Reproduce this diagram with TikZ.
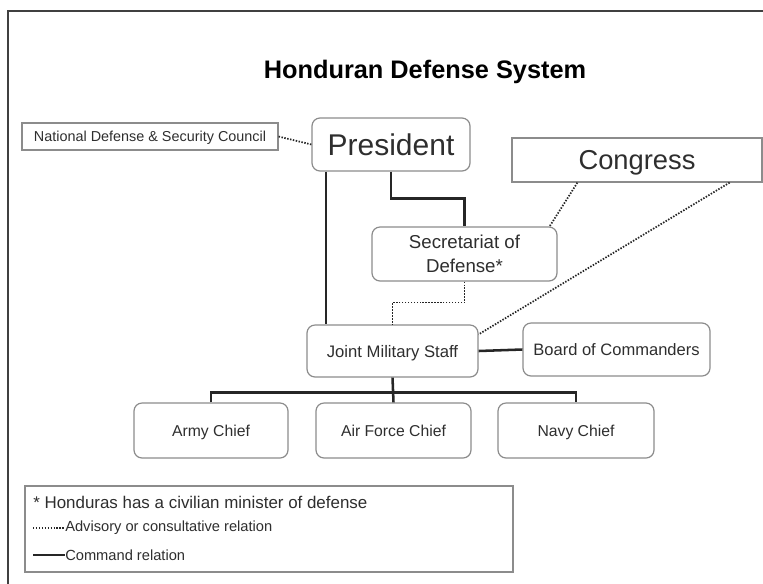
\documentclass[tikz,border=0pt]{standalone}
\usepackage{fontspec}
\setmainfont{Liberation Sans}
\usetikzlibrary{calc}
\definecolor{ink}{HTML}{2E2E2E}
\definecolor{rim}{HTML}{8C8C8C}

\begin{document}
\begin{tikzpicture}[x=0.75pt, y=-0.75pt,
    box/.style={draw=rim, line width=0.9pt, rounded corners=6pt, inner sep=0pt, text=ink, align=center, text depth=0pt},
    flat/.style={draw=rim, line width=0.9pt, inner sep=0pt, text=ink, align=center, text depth=0pt},
    sz/.style={font=\fontsize{#1}{#1}\selectfont},
    cmd/.style={draw=black!85, line width=1.9pt},
    adv/.style={draw=black!85, line width=1.3pt, dash pattern=on 1.1pt off 1.1pt}]
    \useasboundingbox (0,0) rectangle (763,583);
    % --- outer frame, cut off at the right and the bottom ---
    \draw[black!75, line width=2pt] (8,600) -- (8,11) -- (780,11);

    \node[text=black, font=\fontsize{19}{22}\selectfont\bfseries] (title) at (425,72) {Honduran Defense System};

    % --- top level ---
    \node[flat, sz=10.8, text height=7.8pt, minimum width=192pt, minimum height=20.25pt] (ndsc) at (150,136.5) {National Defense \& Security Council};
    \node[box, sz=22.5, text height=16.2pt, minimum width=118.5pt, minimum height=39.75pt] (pres) at (391,144.5) {President};
    \node[flat, sz=20.5, text height=14.8pt, minimum width=187.5pt, minimum height=33pt] (cong) at (637,160) {Congress};
    \node[box, font=\fontsize{14}{18}\selectfont, text depth=, minimum width=138.75pt, minimum height=40.5pt] (sec) at (464.5,254) {Secretariat of\\Defense*};

    % --- staff level ---
    \node[box, sz=12.5, text height=9pt, minimum width=128.25pt, minimum height=39pt] (jms) at (392.5,351) {Joint Military Staff};
    \node[box, sz=12.4, text height=8.9pt, minimum width=140.25pt, minimum height=39.75pt] (board) at (616.5,349.5) {Board of Commanders};

    % --- chiefs ---
    \node[box, sz=11.8, text height=8.5pt, minimum width=115.5pt, minimum height=41.25pt] (army) at (211,430.5) {Army Chief};
    \node[box, sz=11.8, text height=8.5pt, minimum width=116.25pt, minimum height=41.25pt] (air) at (393.5,430.5) {Air Force Chief};
    \node[box, sz=11.8, text height=8.5pt, minimum width=117pt, minimum height=41.25pt] (navy) at (576,430.5) {Navy Chief};

    % --- advisory relations (dotted) ---
    \draw[adv] (ndsc.east) -- (pres.west);
    \draw[adv] (sec.south) -- ++(0,21) -| (jms.north);
    \draw[adv] ([xshift=49.5pt]cong.south west) -- ([xshift=-6pt]sec.north east);
    \draw[adv] ([xshift=-24.75pt]cong.south east) -- ([yshift=-7.5pt]jms.north east);

    % --- command relations (solid) ---
    \draw[cmd] ([xshift=11pt]pres.south west) -- ([xshift=11pt]pres.south west |- jms.north);
    \draw[cmd] (pres.south) -- ++(0,27) -| (sec.north);
    \draw[cmd] (jms.east) -- (board.west);
    \draw[cmd] (jms.south) -- (air.north);
    \coordinate (bar) at ([yshift=7.5pt]air.north);
    \draw[cmd] (army.north) |- (bar) -| (navy.north);

    % --- legend ---
    \node[flat, minimum width=366pt, minimum height=64.5pt] (legend) at (269,529) {};
    \node[anchor=west, inner sep=0pt, text=ink, font=\fontsize{12.7}{15}\selectfont] (note) at (33,502) {* Honduras has a civilian minister of defense};
    \coordinate (a1) at (33,528); \coordinate (a2) at (65,528);
    \coordinate (c1) at (33,555); \coordinate (c2) at (65,555);
    \draw[adv] (a1) -- (a2);
    \draw[cmd] (c1) -- (c2);
    \node[anchor=west, inner sep=0pt, text=ink, font=\fontsize{11}{13}\selectfont] (advtext) at (a2) {Advisory or consultative relation};
    \node[anchor=west, inner sep=0pt, text=ink, font=\fontsize{11}{13}\selectfont] (cmdtext) at (c2) {Command relation};
\end{tikzpicture}
\end{document}
